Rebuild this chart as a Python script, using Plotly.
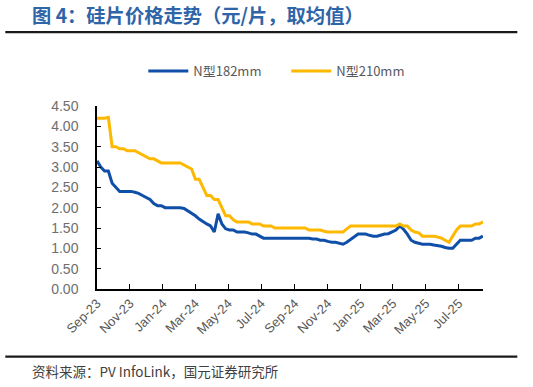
import pandas as pd
import plotly.graph_objects as go

# ---- data ----
start_date = "2023-09-06"
n182 = [3.15, 3.0, 2.9, 2.9, 2.6, 2.5, 2.4, 2.4, 2.4, 2.4,
        2.38, 2.35, 2.3, 2.25, 2.2, 2.1, 2.05, 2.05, 2.0, 2.0,
        2.0, 2.0, 2.0, 1.98, 1.92, 1.87, 1.8, 1.72, 1.65, 1.6,
        1.55, 1.4, 1.85, 1.6, 1.48, 1.45, 1.45, 1.4, 1.4, 1.4,
        1.38, 1.35, 1.35, 1.3, 1.25, 1.25, 1.25, 1.25, 1.25, 1.25,
        1.25, 1.25, 1.25, 1.25, 1.25, 1.25, 1.25, 1.23, 1.23, 1.2,
        1.2, 1.17, 1.15, 1.15, 1.12, 1.1, 1.15, 1.22, 1.3, 1.35,
        1.35, 1.35, 1.32, 1.3, 1.3, 1.33, 1.35, 1.36, 1.4, 1.45,
        1.55, 1.47, 1.35, 1.2, 1.15, 1.12, 1.1, 1.1, 1.1, 1.08,
        1.07, 1.05, 1.02, 1.0, 1.0, 1.1, 1.2, 1.2, 1.2, 1.2,
        1.25, 1.25, 1.3]
n210 = [4.2, 4.2, 4.2, 4.22, 3.5, 3.5, 3.45, 3.45, 3.4, 3.4,
        3.4, 3.35, 3.3, 3.25, 3.2, 3.2, 3.15, 3.1, 3.1, 3.1,
        3.1, 3.1, 3.1, 3.05, 3.0, 2.95, 2.7, 2.7, 2.5, 2.3,
        2.3, 2.2, 2.2, 2.0, 1.8, 1.8, 1.7, 1.65, 1.65, 1.65,
        1.65, 1.6, 1.6, 1.6, 1.55, 1.55, 1.55, 1.5, 1.5, 1.5,
        1.5, 1.5, 1.5, 1.5, 1.5, 1.5, 1.45, 1.45, 1.45, 1.45,
        1.42, 1.4, 1.4, 1.4, 1.4, 1.4, 1.48, 1.55, 1.55, 1.55,
        1.55, 1.55, 1.55, 1.55, 1.55, 1.55, 1.55, 1.55, 1.55, 1.55,
        1.6, 1.55, 1.55, 1.45, 1.4, 1.38, 1.3, 1.3, 1.3, 1.3,
        1.28, 1.25, 1.2, 1.15, 1.3, 1.45, 1.55, 1.55, 1.55, 1.55,
        1.6, 1.6, 1.65]
tick_labels = ["Sep-23", "Nov-23", "Jan-24", "Mar-24", "May-24", "Jul-24",
               "Sep-24", "Nov-24", "Jan-25", "Mar-25", "May-25", "Jul-25"]
series_names = ["N型182mm", "N型210mm"]

dates = pd.date_range(start_date, periods=len(n182), freq="7D")
tick_vals = [pd.to_datetime("06-" + t, format="%d-%b-%y") for t in tick_labels]

# ---- layout geometry (pixels) ----
W, H = 533, 387
L, R, T, B = 96.7, 482.7, 106.0, 289.3
pw, ph = R - L, B - T


def px(x):
    return (x - L) / pw


def py(y):
    return (B - y) / ph


BLUE = "#0F4FA8"
ORANGE = "#FFB800"
LATIN = "Liberation Sans, Arial, sans-serif"
CJK = "Noto Sans CJK SC, sans-serif"

fig = go.Figure()
fig.add_trace(go.Scatter(x=dates, y=n182, mode="lines", name=series_names[0],
                         line=dict(color=BLUE, width=3)))
fig.add_trace(go.Scatter(x=dates, y=n210, mode="lines", name=series_names[1],
                         line=dict(color=ORANGE, width=3)))

fig.update_layout(
    width=W, height=H,
    margin=dict(l=L, r=W - R, t=T, b=H - B, pad=0, autoexpand=False),
    paper_bgcolor="white", plot_bgcolor="white",
    showlegend=True,
    legend=dict(orientation="h", x=px(143), xanchor="left", y=py(71), yanchor="middle",
                font=dict(family=CJK, size=13, color="#595959"),
                entrywidth=88, entrywidthmode="pixels",
                bgcolor="rgba(0,0,0,0)", itemwidth=40),
    font=dict(family=LATIN),
)
fig.update_xaxes(
    type="date", range=[dates[0], dates[-1]], automargin=False,
    tickvals=tick_vals, ticktext=tick_labels, tickangle=-45,
    tickfont=dict(family=LATIN, size=13, color="#595959"),
    showgrid=False, zeroline=False,
    showline=True, linecolor="#000000", linewidth=1.5,
    ticks="inside", ticklen=5, tickcolor="#000000", tickwidth=1,
)
fig.update_yaxes(
    range=[0, 4.5], dtick=0.5, tick0=0, tickformat=".2f", automargin=False,
    tickfont=dict(family=LATIN, size=14, color="#6E6E6E"),
    showgrid=False, zeroline=False, ticklabelstandoff=14,
    showline=True, linecolor="#000000", linewidth=1.5,
    ticks="inside", ticklen=4, tickcolor="#000000", tickwidth=1,
)

# title
fig.add_annotation(text="<b>图 4：硅片价格走势（元/片，取均值）</b>",
                   xref="paper", yref="paper", x=px(30), y=py(15),
                   xanchor="left", yanchor="middle", showarrow=False,
                   font=dict(family=CJK, size=19.3, color="#2E64A8"))
# source
fig.add_annotation(text="资料来源：PV InfoLink，国元证券研究所",
                   xref="paper", yref="paper", x=px(30), y=py(371),
                   xanchor="left", yanchor="middle", showarrow=False,
                   font=dict(family=CJK, size=13.5, color="#404040"))
# rules
for yy in (32, 357):
    fig.add_shape(type="line", xref="paper", yref="paper",
                  x0=px(5), x1=px(517), y0=py(yy), y1=py(yy),
                  line=dict(color="#1A1A1A", width=2.2))

fig.write_html("out.html", config={"displayModeBar": False},
               post_script="document.body.style.margin='0';document.body.style.padding='0';")
